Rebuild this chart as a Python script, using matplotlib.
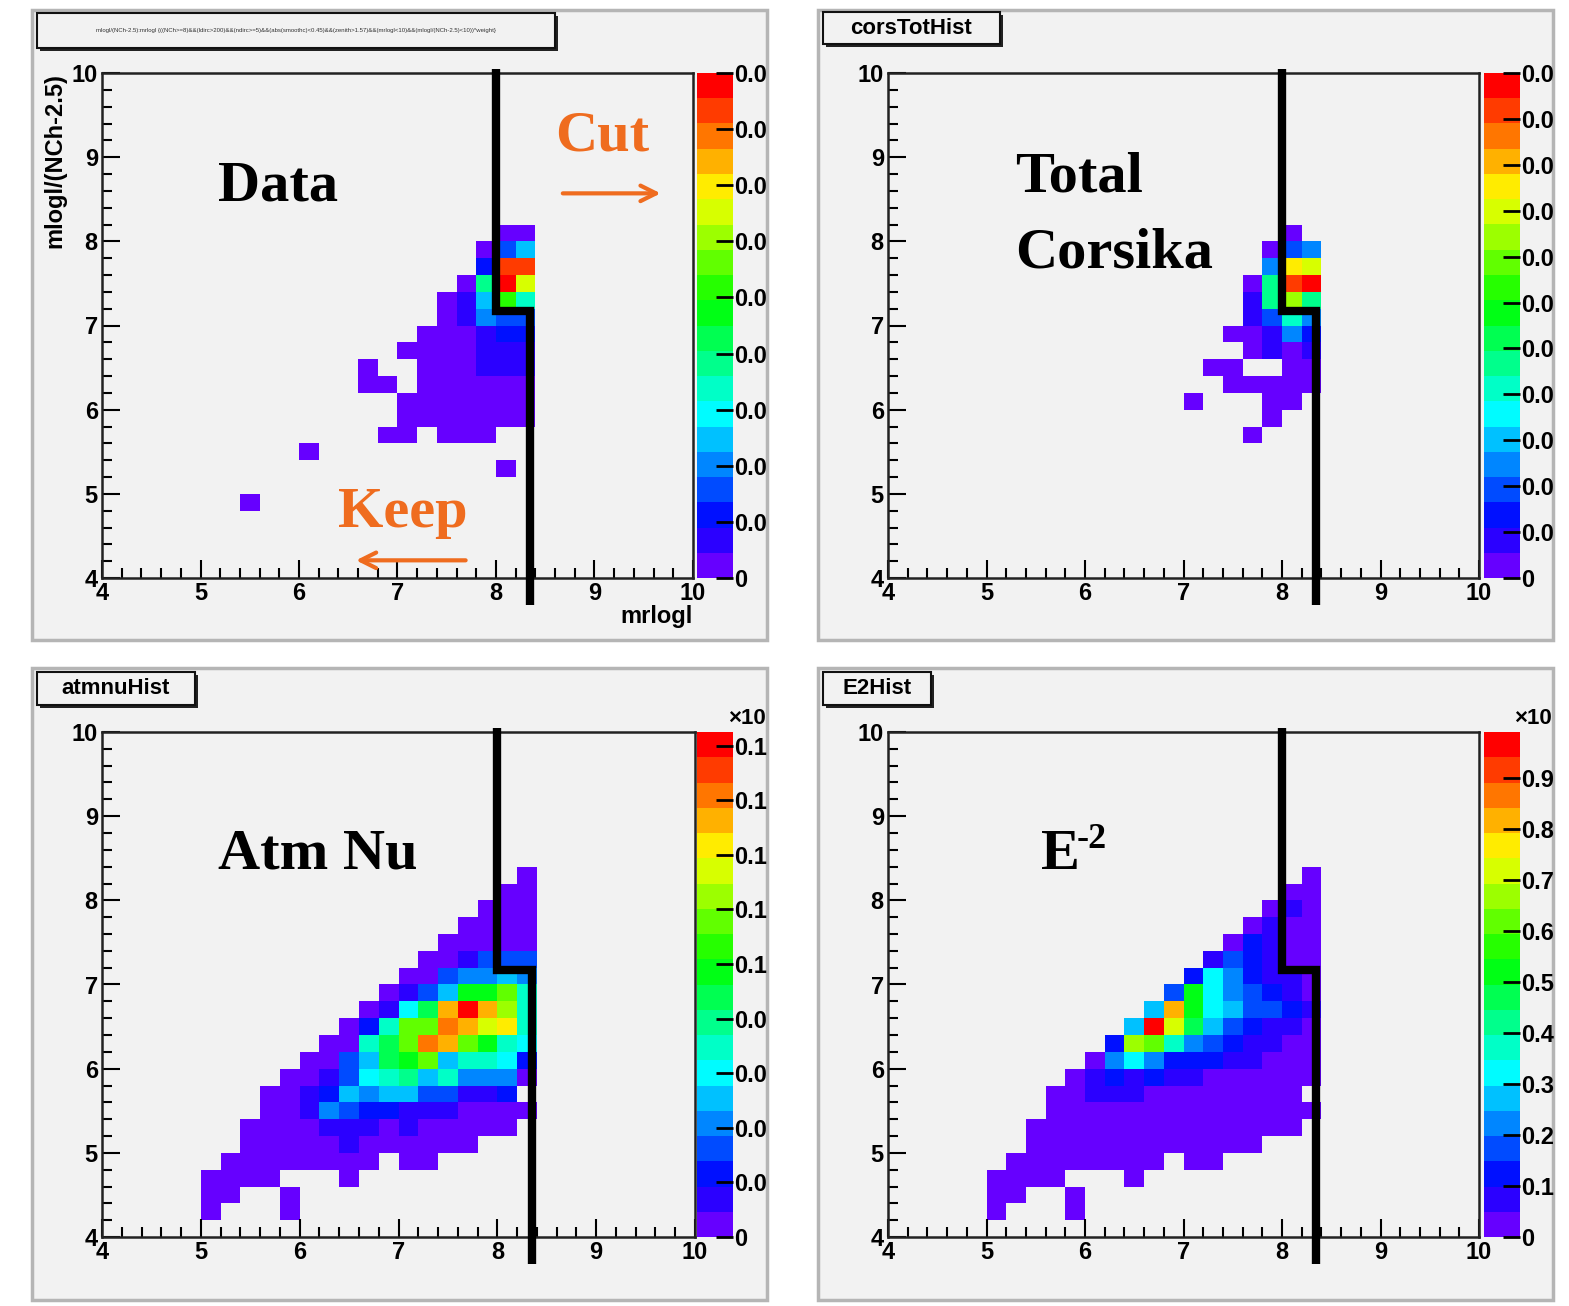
import colorsys
import numpy as np
import matplotlib
matplotlib.use('Agg')
import matplotlib.pyplot as plt
from matplotlib.colors import ListedColormap
from matplotlib.patches import Rectangle
from matplotlib.ticker import MultipleLocator, FuncFormatter

plt.rcParams['font.family'] = ['Liberation Sans', 'DejaVu Sans']
plt.rcParams['font.weight'] = 'bold'

W, H = 1569, 1306

# 30 x 30 bins over 4..10 (mrlogl) and 4..10 (mlogl/(NCh-2.5))
x_edges = np.linspace(4, 10, 31)
y_edges = np.linspace(4, 10, 31)

# colour level per bin (0..19 = 0-9,a-j), '.' = empty bin
# rows go from y 8.4-8.6 (top) down to y 4.0-4.2, groups of 5 bins = 1 unit of x
data_rows = [
    "..... ..... ..... ..... ..... .....",
    "..... ..... ..... ..... ..... .....",
    "..... ..... ..... ..... 00... .....",
    "..... ..... ..... ....0 35... .....",
    "..... ..... ..... ....2 ii... .....",
    "..... ..... ..... ...08 je... .....",
    "..... ..... ..... ..015 b7... .....",
    "..... ..... ..... ..014 33... .....",
    "..... ..... ..... .0001 22... .....",
    "..... ..... ..... 00001 11... .....",
    "..... ..... ...0. .0001 11... .....",
    "..... ..... ...00 .0000 00... .....",
    "..... ..... ..... 00000 00... .....",
    "..... ..... ..... 00000 00... .....",
    "..... ..... ....0 0.000 ..... .....",
    "..... ..... 0.... ..... ..... .....",
    "..... ..... ..... ..... 0.... .....",
    "..... ..... ..... ..... ..... .....",
    "..... ..0.. ..... ..... ..... .....",
    "..... ..... ..... ..... ..... .....",
    "..... ..... ..... ..... ..... .....",
    "..... ..... ..... ..... ..... .....",
    "..... ..... ..... ..... ..... .....",
]

corsika_rows = [
    "..... ..... ..... ..... ..... .....",
    "..... ..... ..... ..... ..... .....",
    "..... ..... ..... ..... 0.... .....",
    "..... ..... ..... ....0 34... .....",
    "..... ..... ..... ....4 fe... .....",
    "..... ..... ..... ...08 ij... .....",
    "..... ..... ..... ...18 d8... .....",
    "..... ..... ..... ...13 74... .....",
    "..... ..... ..... ..001 42... .....",
    "..... ..... ..... ...01 01... .....",
    "..... ..... ..... .00.. 00... .....",
    "..... ..... ..... ..000 00... .....",
    "..... ..... ..... 0...0 0.... .....",
    "..... ..... ..... ....0 ..... .....",
    "..... ..... ..... ...0. ..... .....",
    "..... ..... ..... ..... ..... .....",
    "..... ..... ..... ..... ..... .....",
    "..... ..... ..... ..... ..... .....",
    "..... ..... ..... ..... ..... .....",
    "..... ..... ..... ..... ..... .....",
    "..... ..... ..... ..... ..... .....",
    "..... ..... ..... ..... ..... .....",
    "..... ..... ..... ..... ..... .....",
]

atmnu_rows = [
    "..... ..... ..... ..... ..... .....",
    "..... ..... ..... ..... .0... .....",
    "..... ..... ..... ..... 00... .....",
    "..... ..... ..... ....0 00... .....",
    "..... ..... ..... ...00 00... .....",
    "..... ..... ..... ..000 00... .....",
    "..... ..... ..... .0013 33... .....",
    "..... ..... ..... 00344 54... .....",
    "..... ..... ....0 135aa c7... .....",
    "..... ..... ...01 69gjg d7... .....",
    "..... ..... ..027 cchge f7... .....",
    "..... ..... .0079 chgca 76... .....",
    "..... ..... 00359 ac577 62... .....",
    "..... ....0 01367 85744 40... .....",
    "..... ...00 12545 53311 2.... .....",
    "..... ...00 14322 11100 00... .....",
    "..... ..000 01110 10000 0.... .....",
    "..... ..000 00100 0000. ..... .....",
    "..... .0000 0000. 00... ..... .....",
    "..... 0000. ..0.. ..... ..... .....",
    "..... 00..0 ..... ..... ..... .....",
    "..... 0...0 ..... ..... ..... .....",
    "..... ..... ..... ..... ..... .....",
]

e2_rows = [
    "..... ..... ..... ..... ..... .....",
    "..... ..... ..... ..... .0... .....",
    "..... ..... ..... ..... 00... .....",
    "..... ..... ..... ....0 10... .....",
    "..... ..... ..... ...01 00... .....",
    "..... ..... ..... ..021 00... .....",
    "..... ..... ..... .1321 00... .....",
    "..... ..... ..... 26421 10... .....",
    "..... ..... ....3 a6432 10... .....",
    "..... ..... ...5g a6533 21... .....",
    "..... ..... ..5je 95321 10... .....",
    "..... ..... .2dc7 43211 00... .....",
    "..... ..... 04642 22110 00... .....",
    "..... ....0 12121 10000 00... .....",
    "..... ...00 11100 00000 0.... .....",
    "..... ...00 00000 00000 00... .....",
    "..... ..000 00000 00000 0.... .....",
    "..... ..000 00000 0000. ..... .....",
    "..... .0000 0000. 00... ..... .....",
    "..... 0000. ..0.. ..... ..... .....",
    "..... 00..0 ..... ..... ..... .....",
    "..... 0...0 ..... ..... ..... .....",
    "..... ..... ..... ..... ..... .....",
]

# z range and colour-bar ticks of each plot
data_zmax, data_ticks = 0.09, np.arange(0, 0.0901, 0.01)
corsika_zmax, corsika_ticks = 0.055, np.arange(0, 0.0551, 0.005)
atmnu_zmax, atmnu_ticks = 0.185, np.arange(0, 0.181, 0.02)
e2_zmax, e2_ticks = 0.99, np.arange(0, 0.91, 0.1)

# the cut drawn on every plot
cut_x = [8.0, 8.0, 8.35, 8.35]
cut_y = [10.05, 7.17, 7.17, 3.68]

LEVELS = '0123456789abcdefghij'
NLEV = len(LEVELS)

# ROOT style rainbow palette, violet -> red, 20 contours
palette = ListedColormap([colorsys.hsv_to_rgb(h, 1, 1)
                          for h in np.linspace(264 / 360, 0, NLEV)])

PAD = '#f2f2f2'
ORANGE = '#ef6c1f'
SERIF = ['Liberation Serif', 'DejaVu Serif']


def fbox(x0, y0, x1, y1):
    return [x0 / W, 1 - y1 / H, (x1 - x0) / W, (y1 - y0) / H]


def to_grid(rows, zmax):
    grid = np.full((30, 30), np.nan)
    n = len(rows)
    for i, row in enumerate(rows):
        row = row.replace(' ', '')
        j = n - 1 - i
        for k, c in enumerate(row):
            if c != '.':
                grid[j, k] = (LEVELS.index(c) + 0.5) / NLEV * zmax
    return np.ma.masked_invalid(grid)


def trunc(v, pos):
    if abs(v) < 1e-9:
        return '0'
    return ('%.3f' % v).rstrip('0')[:3]


fig = plt.figure(figsize=(W / 100, H / 100), dpi=100)
fig.patch.set_facecolor('white')


def pad(x0, y0, x1, y1):
    fig.add_artist(Rectangle((x0 / W, 1 - y1 / H), (x1 - x0) / W, (y1 - y0) / H,
                             transform=fig.transFigure, facecolor=PAD,
                             edgecolor='#b5b5b5', lw=2.5, zorder=-2))


def title_box(x0, y0, x1, y1, text, size, weight='bold', color='black'):
    sh = 3
    fig.add_artist(Rectangle(((x0 + sh) / W, 1 - (y1 + sh) / H), (x1 - x0) / W, (y1 - y0) / H,
                             transform=fig.transFigure, facecolor='#222222',
                             edgecolor='none', zorder=1))
    fig.add_artist(Rectangle((x0 / W, 1 - y1 / H), (x1 - x0) / W, (y1 - y0) / H,
                             transform=fig.transFigure, facecolor=PAD,
                             edgecolor='#111111', lw=1.5, zorder=2))
    fig.text((x0 + x1) / 2 / W, 1 - (y0 + y1) / 2 / H, text, ha='center', va='center',
             fontsize=size, fontweight=weight, color=color, zorder=3)


def hist_panel(box, cbox, rows, zmax, ticks):
    ax = fig.add_axes(fbox(*box))
    ax.set_facecolor(PAD)
    grid = to_grid(rows, zmax)
    mesh = ax.pcolormesh(x_edges, y_edges, grid, cmap=palette, vmin=0, vmax=zmax)
    ax.set_xlim(4, 10)
    ax.set_ylim(4, 10)
    ax.xaxis.set_major_locator(MultipleLocator(1))
    ax.xaxis.set_minor_locator(MultipleLocator(0.2))
    ax.yaxis.set_major_locator(MultipleLocator(1))
    ax.yaxis.set_minor_locator(MultipleLocator(0.2))
    ax.tick_params(which='both', direction='in', top=False, right=False,
                   width=1.5, labelsize=17, pad=3)
    ax.tick_params(which='major', length=13)
    ax.tick_params(which='minor', length=7)
    for s in ax.spines.values():
        s.set_linewidth(1.8)
        s.set_color('#222222')
    for lab in ax.get_xticklabels() + ax.get_yticklabels():
        lab.set_fontweight('bold')
    ax.plot(cut_x, cut_y, color='black', lw=6, clip_on=False,
            solid_joinstyle='miter', solid_capstyle='butt', zorder=5)

    cax = fig.add_axes(fbox(*cbox))
    cb = fig.colorbar(mesh, cax=cax, ticks=ticks)
    cb.outline.set_visible(False)
    cb.minorticks_off()
    cax.yaxis.set_major_formatter(FuncFormatter(trunc))
    cax.tick_params(direction='in', length=12, width=2, pad=1, labelsize=17)
    for lab in cax.get_yticklabels():
        lab.set_fontweight('bold')
    return ax


# pads
pad(32, 10, 767, 640)
pad(818, 10, 1553, 640)
pad(32, 668, 767, 1300)
pad(818, 668, 1553, 1300)

# titles
title_box(37, 13, 555, 48,
          'mlogl/(NCh-2.5):mrlogl {((NCh>=8)&&(ldirc>200)&&(ndirc>=5)&&(abs(smoothc)<0.45)'
          '&&(zenith>1.57)&&(mrlogl<10)&&(mlogl/(NCh-2.5)<10))*weight}', 4.3,
          weight='normal', color='#333333')
title_box(823, 12, 1000, 44, 'corsTotHist', 16)
title_box(37, 672, 195, 705, 'atmnuHist', 16)
title_box(823, 672, 931, 705, 'E2Hist', 16)

# Data
ax1 = hist_panel((102, 73, 693, 578), (697, 73, 733, 578), data_rows, data_zmax, data_ticks)
ax1.set_ylabel('mlogl/(NCh-2.5)', loc='top', fontsize=17, fontweight='bold', labelpad=4)
ax1.set_xlabel('mrlogl', loc='right', fontsize=17, fontweight='bold', labelpad=0)
ax1.text(5.18, 8.65, 'Data', family=SERIF, fontsize=42, fontweight='bold', va='center')
ax1.text(8.6, 9.24, 'Cut', family=SERIF, fontsize=42, fontweight='bold', va='center',
         color=ORANGE)
ax1.text(6.4, 4.77, 'Keep', family=SERIF, fontsize=42, fontweight='bold', va='center',
         color=ORANGE)
ax1.annotate('', xy=(9.7, 8.57), xytext=(8.65, 8.57),
             arrowprops=dict(arrowstyle='->', color=ORANGE, lw=3, mutation_scale=28))
ax1.annotate('', xy=(6.55, 4.21), xytext=(7.72, 4.21),
             arrowprops=dict(arrowstyle='->', color=ORANGE, lw=3, mutation_scale=28))

# Total Corsika
ax2 = hist_panel((888, 73, 1479, 578), (1484, 73, 1520, 578), corsika_rows, corsika_zmax,
                 corsika_ticks)
ax2.text(5.29, 8.76, 'Total', family=SERIF, fontsize=42, fontweight='bold', va='center')
ax2.text(5.29, 7.86, 'Corsika', family=SERIF, fontsize=42, fontweight='bold', va='center')

# Atm Nu
ax3 = hist_panel((102, 732, 695, 1237), (697, 732, 733, 1237), atmnu_rows, atmnu_zmax,
                 atmnu_ticks)
ax3.text(5.17, 8.54, 'Atm Nu', family=SERIF, fontsize=42, fontweight='bold', va='center')
fig.text(728 / W, 1 - 718 / H, '×10', fontsize=16, fontweight='bold', va='center')

# E^-2
ax4 = hist_panel((888, 732, 1479, 1237), (1484, 732, 1520, 1237), e2_rows, e2_zmax, e2_ticks)
ax4.text(5.55, 8.54, 'E', family=SERIF, fontsize=42, fontweight='bold', va='center')
ax4.text(5.92, 8.72, '-2', family=SERIF, fontsize=26, fontweight='bold', va='center')
fig.text(1514 / W, 1 - 718 / H, '×10', fontsize=16, fontweight='bold', va='center')

fig.savefig('out.png', dpi=100, facecolor='white')
